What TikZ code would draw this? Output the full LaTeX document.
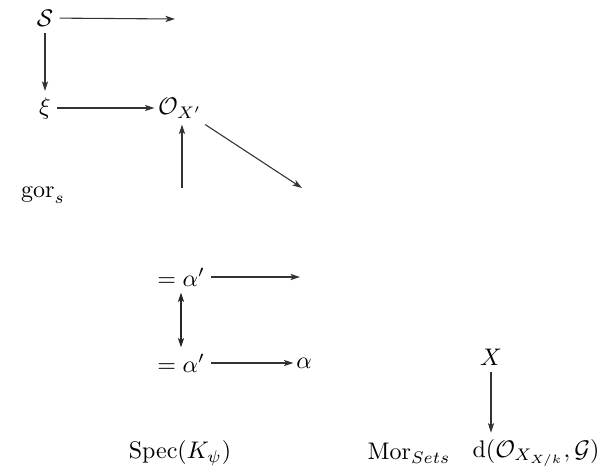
\documentclass[tikz,border=0pt]{standalone}
\usepackage{amsmath,amssymb}
\usetikzlibrary{arrows.meta}
\begin{document}
\begin{tikzpicture}[x=0.4167pt,y=-0.4167pt,
  every node/.style={inner sep=2.5pt},
  arr/.style={-{Stealth[length=4pt,width=2.6pt,inset=1pt]},line width=0.45pt,draw=black!80},
  darr/.style={{Stealth[length=4pt,width=2.6pt,inset=1pt]}-{Stealth[length=4pt,width=2.6pt,inset=1pt]},line width=0.5pt,draw=black!85}]
\useasboundingbox (0,0) rectangle (611,466);
% top part
\node (S) at (45,18) {$\mathcal{S}$};
\coordinate (t1) at (175,19);
\node (xi) at (45,108) {$\xi$};
\node (O) at (180,108) {$\mathcal{O}_{X'}$};
\coordinate (u1) at (182,188);
\coordinate (d1) at (302,188);
\node (gor) at (43,195) {$\mathrm{gor}_s$};
\draw[arr] (S) -- (t1);
\draw[arr] (S) -- (xi);
\draw[arr,shorten >=-1.2pt] (xi) -- (O);
\draw[arr] (u1) -- (u1 |- O.south);
\draw[arr] (O) -- (d1);
% middle part
\node (At) at (181,277) {$=\alpha'$};
\coordinate (t2) at (300,277);
\node (Ab) at (181,363) {$=\alpha'$};
\node (al) at (304,363) {$\alpha$};
\draw[arr] (At) -- (t2);
\draw[darr] (At) -- (Ab);
\draw[arr,shorten >=-1.5pt] (Ab) -- (al);
% bottom part
\node (X) at (491,357) {$X$};
\node (D) at (536,453) {$\mathrm{d}(\mathcal{O}_{X_{X/k}},\mathcal{G})$};
\node (Mor) at (409,453) {$\mathrm{Mor}_{Sets}$};
\node (Spec) at (180,453) {$\mathrm{Spec}(K_\psi)$};
\draw[arr] (X) -- (X |- D.north);
\end{tikzpicture}
\end{document}
